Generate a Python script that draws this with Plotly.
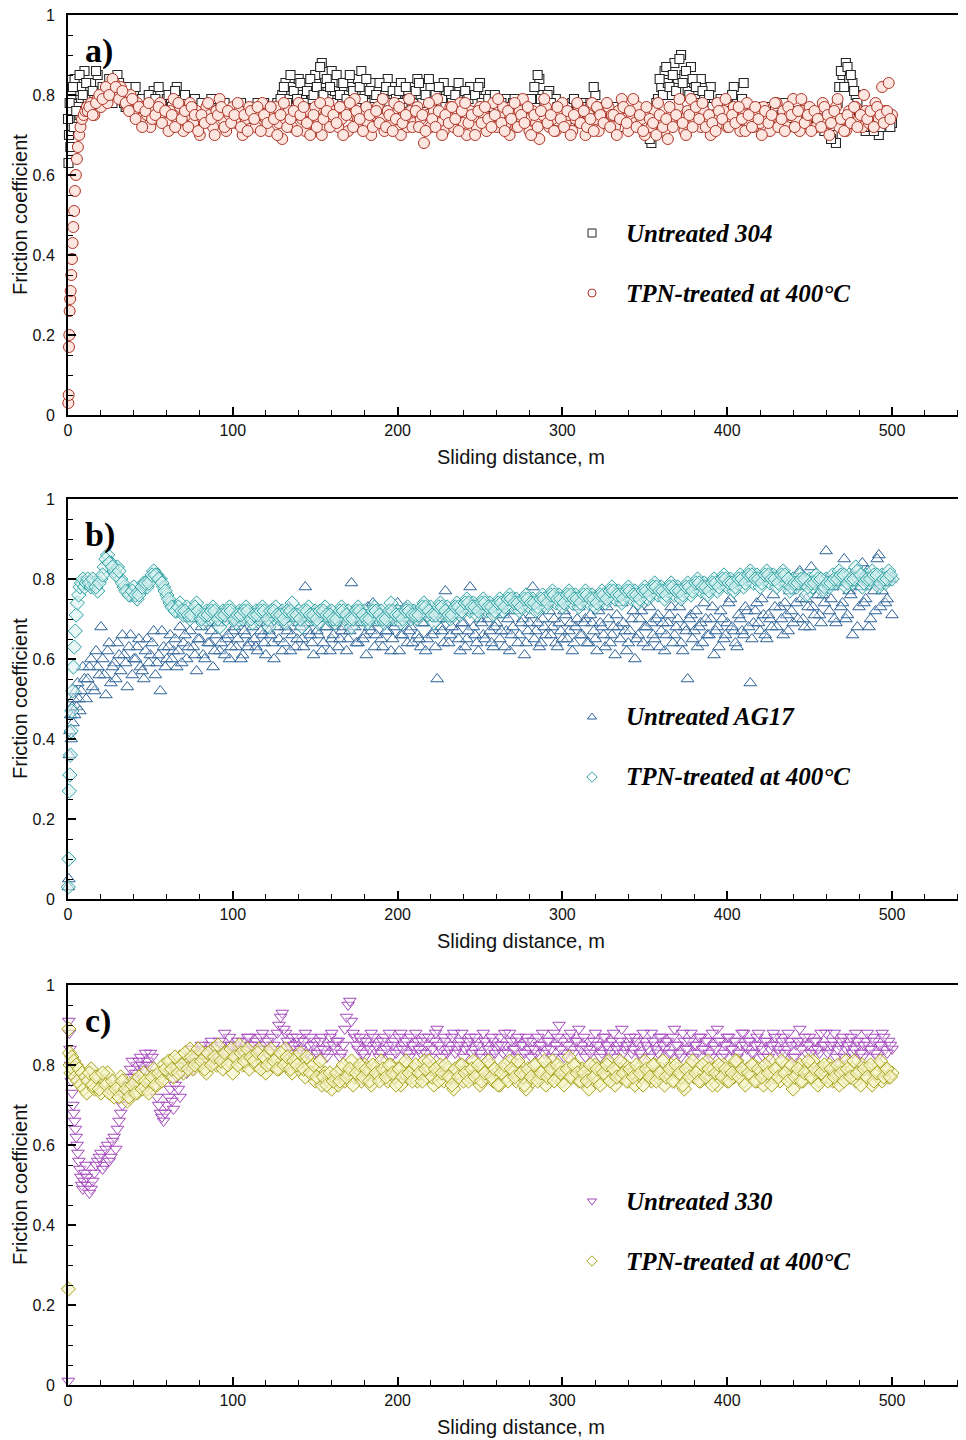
import plotly.graph_objects as go

# ---------------- DATA ----------------
STEP = 2.0          # sampling interval of each record row (m); second row offset by 1 m
MAIN_START = 12.0   # start of the regular part for series with a dense run-in part

# Panel a) Untreated 304 (squares)
A_SQ_EARLY_X = [0.3, 0.6, 1.0, 1.4, 2.5, 3.5, 5.0, 7.0]
A_SQ_EARLY_Y = [0.63, 0.70, 0.74, 0.67, 0.78, 0.72, 0.81, 0.75]
A_SQ_START = 0.0
A_SQ = [
    0.74,0.80,0.84,0.77,0.82,0.86,0.79,0.83,0.80,0.85,0.78,0.82,0.81,0.79,0.84,0.85,0.80,0.78,0.82,0.77,0.80,0.78,0.76,0.79,0.77,
    0.78,0.81,0.76,0.80,0.77,0.79,0.76,0.78,0.82,0.77,0.75,0.78,0.76,0.79,0.77,0.75,0.78,0.76,0.74,0.77,0.75,0.78,0.76,0.74,0.77,
    0.75,0.77,0.76,0.74,0.76,0.75,0.77,0.77,0.78,0.77,0.76,0.75,0.77,0.76,0.78,0.80,0.83,0.79,0.82,0.77,0.84,0.80,0.78,0.82,0.79,
    0.85,0.81,0.88,0.83,0.79,0.86,0.81,0.78,0.83,0.80,0.77,0.82,0.79,0.84,0.86,0.80,0.78,0.83,0.79,0.81,0.77,0.80,0.84,0.78,0.82,
    0.79,0.83,0.77,0.80,0.82,0.78,0.84,0.80,0.76,0.79,0.82,0.78,0.80,0.77,0.83,0.79,0.81,0.76,0.78,0.80,0.77,0.79,0.82,0.78,0.80,
    0.83,0.79,0.77,0.80,0.76,0.78,0.75,0.77,0.79,0.76,0.78,0.75,0.77,0.74,0.76,0.78,0.75,0.77,0.84,0.80,0.78,0.81,0.76,0.79,0.75,
    0.77,0.74,0.76,0.78,0.75,0.73,0.76,0.78,0.74,0.77,0.80,0.76,0.74,0.77,0.75,0.73,0.76,0.74,0.77,0.75,0.73,0.76,0.74,0.72,0.75,
    0.73,0.70,0.68,0.76,0.79,0.82,0.86,0.83,0.80,0.88,0.84,0.90,0.85,0.81,0.87,0.83,0.79,0.84,0.80,0.77,0.82,0.78,0.75,0.79,0.76,
    0.78,0.75,0.82,0.79,0.76,0.83,0.77,0.74,0.76,0.73,0.75,0.77,0.74,0.76,0.73,0.75,0.77,0.74,0.76,0.73,0.75,0.77,0.74,0.72,0.75,
    0.73,0.76,0.74,0.72,0.75,0.73,0.76,0.70,0.68,0.82,0.85,0.88,0.84,0.83,0.80,0.76,0.73,0.71,0.74,0.76,0.72,0.70,0.73,0.75,0.74,
    0.73,
]
A_SQ_ODD = [
    0.78,0.82,0.76,0.85,0.80,0.83,0.77,0.81,0.86,0.79,0.82,0.80,0.84,0.78,0.81,0.83,0.79,0.77,0.80,0.78,0.82,0.76,0.79,0.77,0.80,
    0.76,0.79,0.82,0.78,0.75,0.80,0.77,0.81,0.76,0.78,0.80,0.77,0.75,0.79,0.76,0.78,0.74,0.77,0.79,0.76,0.75,0.77,0.78,0.75,0.76,
    0.77,0.75,0.78,0.76,0.74,0.77,0.76,0.78,0.77,0.78,0.76,0.77,0.75,0.78,0.79,0.82,0.78,0.85,0.81,0.79,0.83,0.78,0.81,0.84,0.80,
    0.82,0.87,0.80,0.84,0.82,0.78,0.85,0.80,0.83,0.79,0.85,0.81,0.78,0.82,0.79,0.84,0.81,0.77,0.80,0.83,0.79,0.82,0.78,0.81,0.79,
    0.81,0.78,0.82,0.79,0.77,0.81,0.83,0.78,0.80,0.84,0.77,0.80,0.82,0.79,0.77,0.81,0.78,0.80,0.83,0.78,0.81,0.79,0.76,0.80,0.82,
    0.78,0.76,0.79,0.77,0.80,0.76,0.78,0.76,0.77,0.75,0.79,0.76,0.74,0.77,0.75,0.79,0.82,0.85,0.79,0.77,0.80,0.78,0.75,0.77,0.76,
    0.75,0.77,0.74,0.79,0.76,0.74,0.77,0.75,0.78,0.82,0.77,0.75,0.73,0.76,0.74,0.77,0.75,0.72,0.76,0.74,0.78,0.75,0.73,0.76,0.74,
    0.72,0.69,0.74,0.78,0.84,0.80,0.87,0.82,0.85,0.81,0.89,0.83,0.86,0.80,0.84,0.82,0.78,0.81,0.76,0.80,0.77,0.74,0.78,0.75,0.77,
    0.76,0.80,0.77,0.74,0.79,0.75,0.73,0.77,0.74,0.76,0.72,0.75,0.77,0.74,0.76,0.73,0.75,0.78,0.74,0.76,0.72,0.75,0.73,0.76,0.74,
    0.75,0.72,0.76,0.74,0.71,0.74,0.69,0.73,0.78,0.86,0.82,0.87,0.85,0.81,0.78,0.74,0.72,0.75,0.73,0.71,0.74,0.72,0.76,0.73,0.72,
]

# Panel a) TPN-treated at 400°C (circles)
A_CI_EARLY_X = [0.2,0.4,0.6,0.8,1.0,1.3,1.6,2.0,2.4,2.8,3.2,3.7,4.2,4.8,5.4,6.0,6.8,7.6,8.5,9.5,10.5,11.5]
A_CI_EARLY_Y = [0.03,0.05,0.17,0.20,0.26,0.29,0.31,0.35,0.39,0.43,0.47,0.51,0.56,0.60,0.64,0.67,0.70,0.72,0.74,0.75,0.76,0.77]
A_CI = [
    0.76,0.78,0.75,0.79,0.77,0.80,0.78,0.81,0.83,0.80,0.82,0.79,0.77,0.80,0.76,0.78,0.74,0.77,0.75,0.72,0.76,0.74,0.78,0.75,0.73,
    0.76,0.79,0.74,0.77,0.71,0.75,0.78,0.73,0.76,0.70,0.74,0.77,0.75,0.72,0.76,0.79,0.74,0.71,0.75,0.77,0.73,0.76,0.70,0.74,0.77,
    0.75,0.72,0.76,0.78,0.74,0.71,0.75,0.77,0.73,0.69,0.74,0.76,0.72,0.75,0.78,0.74,0.71,0.76,0.73,0.77,0.74,0.70,0.75,0.78,0.73,
    0.76,0.72,0.74,0.77,0.71,0.75,0.79,0.74,0.72,0.76,0.73,0.70,0.75,0.77,0.74,0.71,0.76,0.73,0.78,0.74,0.70,0.75,0.72,0.76,0.73,
    0.77,0.74,0.68,0.75,0.72,0.76,0.79,0.73,0.71,0.75,0.77,0.72,0.74,0.78,0.73,0.70,0.76,0.74,0.72,0.77,0.75,0.71,0.74,0.78,0.72,
    0.75,0.77,0.73,0.70,0.75,0.72,0.76,0.79,0.74,0.71,0.76,0.73,0.69,0.75,0.77,0.72,0.74,0.71,0.76,0.78,0.73,0.75,0.71,0.74,0.77,
    0.73,0.70,0.75,0.78,0.74,0.71,0.76,0.73,0.77,0.75,0.72,0.76,0.79,0.74,0.71,0.75,0.73,0.77,0.74,0.70,0.75,0.72,0.76,0.78,0.74,
    0.71,0.69,0.75,0.73,0.77,0.74,0.71,0.76,0.79,0.73,0.75,0.72,0.76,0.74,0.70,0.75,0.78,0.73,0.76,0.72,0.74,0.77,0.73,0.71,0.75,
    0.78,0.74,0.72,0.76,0.73,0.77,0.75,0.71,0.74,0.78,0.73,0.76,0.72,0.75,0.79,0.74,0.71,0.76,0.73,0.77,0.75,0.72,0.74,0.78,0.73,
    0.70,0.75,0.77,0.72,0.74,0.71,0.76,0.73,0.77,0.74,0.72,0.76,0.73,0.75,0.78,0.74,0.82,0.76,0.83,0.75,
]
A_CI_ODD = [
    0.77,0.75,0.78,0.80,0.79,0.82,0.80,0.84,0.82,0.79,0.81,0.78,0.76,0.79,0.74,0.77,0.72,0.76,0.78,0.74,0.75,0.77,0.73,0.76,0.71,
    0.75,0.72,0.78,0.74,0.76,0.72,0.77,0.75,0.71,0.75,0.73,0.78,0.74,0.70,0.75,0.77,0.72,0.76,0.73,0.75,0.78,0.72,0.75,0.71,0.76,
    0.74,0.77,0.71,0.75,0.73,0.77,0.74,0.70,0.75,0.78,0.72,0.74,0.76,0.71,0.75,0.77,0.73,0.70,0.75,0.72,0.78,0.74,0.76,0.72,0.75,
    0.73,0.77,0.70,0.75,0.78,0.72,0.76,0.74,0.71,0.77,0.75,0.72,0.76,0.73,0.79,0.72,0.75,0.71,0.74,0.77,0.73,0.75,0.79,0.72,0.76,
    0.72,0.75,0.71,0.78,0.74,0.72,0.76,0.70,0.75,0.73,0.77,0.74,0.71,0.76,0.78,0.73,0.75,0.70,0.76,0.73,0.77,0.74,0.72,0.75,0.79,
    0.73,0.71,0.76,0.74,0.78,0.72,0.75,0.73,0.77,0.70,0.75,0.72,0.76,0.79,0.73,0.75,0.71,0.77,0.74,0.72,0.76,0.70,0.75,0.78,0.73,
    0.76,0.72,0.74,0.71,0.77,0.75,0.73,0.78,0.72,0.75,0.70,0.74,0.77,0.73,0.76,0.79,0.72,0.75,0.71,0.77,0.74,0.73,0.70,0.75,0.72,
    0.74,0.77,0.72,0.75,0.79,0.73,0.70,0.75,0.72,0.77,0.74,0.78,0.72,0.75,0.73,0.71,0.76,0.74,0.79,0.72,0.75,0.73,0.77,0.74,0.71,
    0.75,0.72,0.77,0.74,0.70,0.76,0.73,0.75,0.78,0.72,0.74,0.71,0.77,0.75,0.72,0.76,0.79,0.73,0.75,0.71,0.76,0.74,0.72,0.77,0.75,
    0.73,0.76,0.79,0.74,0.71,0.75,0.73,0.77,0.72,0.75,0.80,0.74,0.76,0.72,0.77,0.75,0.73,0.76,0.74,
]

# Panel b) Untreated AG17 (triangles)
B_TR_EARLY_X = [0.2,0.5,0.8,1.2,1.6,2.0,2.5,3.0,3.5,4.0,4.6,5.2,5.8,6.5,7.2,8.0,9.0,10.0,11.0]
B_TR_EARLY_Y = [0.03,0.05,0.36,0.42,0.46,0.40,0.48,0.44,0.50,0.46,0.52,0.48,0.54,0.50,0.47,0.52,0.58,0.55,0.50]
B_TR = [
    0.55,0.60,0.52,0.58,0.68,0.56,0.62,0.54,0.59,0.64,0.57,0.61,0.53,0.66,0.60,0.63,0.58,0.55,0.65,0.61,0.67,0.59,0.52,0.63,0.60,
    0.66,0.62,0.58,0.68,0.64,0.60,0.67,0.63,0.57,0.65,0.61,0.69,0.64,0.58,0.66,0.62,0.70,0.65,0.60,0.67,0.63,0.69,0.61,0.66,0.64,
    0.68,0.63,0.70,0.66,0.61,0.67,0.64,0.71,0.65,0.62,0.68,0.73,0.66,0.63,0.69,0.65,0.78,0.67,0.64,0.70,0.66,0.62,0.68,0.72,0.65,
    0.69,0.63,0.67,0.71,0.65,0.79,0.68,0.64,0.70,0.66,0.73,0.67,0.63,0.69,0.65,0.71,0.67,0.62,0.68,0.74,0.66,0.70,0.64,0.68,0.72,
    0.66,0.63,0.69,0.65,0.71,0.67,0.55,0.68,0.64,0.70,0.66,0.73,0.67,0.62,0.69,0.65,0.78,0.68,0.64,0.70,0.66,0.72,0.67,0.63,0.69,
    0.65,0.71,0.67,0.62,0.68,0.74,0.66,0.70,0.64,0.69,0.78,0.67,0.63,0.70,0.66,0.72,0.68,0.64,0.69,0.65,0.71,0.67,0.62,0.68,0.73,
    0.66,0.70,0.64,0.69,0.65,0.72,0.68,0.63,0.70,0.66,0.61,0.68,0.74,0.67,0.64,0.70,0.60,0.66,0.72,0.68,0.63,0.69,0.65,0.71,0.67,
    0.62,0.69,0.73,0.66,0.70,0.64,0.68,0.55,0.71,0.67,0.63,0.69,0.74,0.66,0.70,0.61,0.68,0.72,0.65,0.69,0.75,0.67,0.63,0.70,0.66,
    0.72,0.54,0.69,0.74,0.67,0.71,0.65,0.70,0.76,0.68,0.73,0.66,0.71,0.77,0.69,0.74,0.82,0.70,0.75,0.68,0.73,0.79,0.71,0.76,0.87,
    0.72,0.78,0.69,0.81,0.74,0.70,0.77,0.66,0.79,0.73,0.84,0.75,0.68,0.80,0.72,0.86,0.77,0.74,0.81,0.71,
]
B_TR_ODD = [
    0.58,0.53,0.62,0.56,0.60,0.51,0.64,0.58,0.55,0.61,0.66,0.59,0.63,0.56,0.60,0.65,0.57,0.62,0.59,0.64,0.56,0.61,0.67,0.58,0.63,
    0.60,0.65,0.62,0.59,0.66,0.63,0.70,0.61,0.65,0.68,0.60,0.64,0.67,0.62,0.69,0.64,0.61,0.66,0.63,0.68,0.65,0.60,0.67,0.63,0.70,
    0.65,0.62,0.67,0.64,0.69,0.66,0.60,0.68,0.72,0.64,0.67,0.62,0.70,0.65,0.68,0.63,0.69,0.66,0.61,0.67,0.71,0.64,0.68,0.62,0.66,
    0.70,0.65,0.68,0.62,0.67,0.72,0.64,0.69,0.65,0.61,0.68,0.74,0.66,0.70,0.63,0.67,0.71,0.65,0.69,0.62,0.66,0.73,0.67,0.64,0.70,
    0.65,0.69,0.62,0.72,0.66,0.63,0.70,0.67,0.77,0.64,0.68,0.71,0.65,0.69,0.63,0.67,0.72,0.66,0.62,0.69,0.65,0.70,0.64,0.68,0.73,
    0.67,0.63,0.70,0.66,0.72,0.64,0.69,0.61,0.67,0.71,0.65,0.69,0.64,0.68,0.74,0.66,0.70,0.63,0.67,0.72,0.65,0.69,0.64,0.70,0.66,
    0.69,0.64,0.71,0.67,0.62,0.69,0.66,0.73,0.64,0.68,0.71,0.65,0.69,0.62,0.67,0.72,0.65,0.70,0.64,0.68,0.73,0.66,0.70,0.63,0.69,
    0.66,0.71,0.64,0.68,0.73,0.62,0.67,0.70,0.65,0.72,0.68,0.64,0.70,0.66,0.73,0.67,0.63,0.70,0.66,0.74,0.68,0.64,0.71,0.67,0.73,
    0.68,0.65,0.72,0.69,0.75,0.66,0.71,0.68,0.73,0.80,0.70,0.74,0.67,0.72,0.78,0.70,0.75,0.68,0.73,0.83,0.71,0.76,0.69,0.74,0.80,
    0.75,0.70,0.79,0.73,0.85,0.71,0.76,0.81,0.68,0.78,0.74,0.82,0.70,0.77,0.85,0.73,0.79,0.75,0.80,
]

# Panel b) TPN-treated at 400°C (diamonds)
B_DI_EARLY_X = [0.2,0.5,0.8,1.1,1.5,1.9,2.3,2.8,3.3,3.8,4.4,5.0,5.7,6.5,7.3,8.2,9.1,10.0,11.0]
B_DI_EARLY_Y = [0.03,0.10,0.27,0.31,0.36,0.42,0.47,0.52,0.58,0.63,0.67,0.71,0.74,0.76,0.78,0.79,0.80,0.78,0.79]
B_DI = [
    0.80,0.78,0.79,0.77,0.80,0.83,0.86,0.84,0.82,0.83,0.80,0.78,0.77,0.76,0.78,0.75,0.77,0.79,0.78,0.80,0.82,0.81,0.80,0.78,0.76,
    0.74,0.73,0.72,0.74,0.71,0.73,0.70,0.72,0.74,0.71,0.69,0.72,0.70,0.73,0.71,0.68,0.72,0.70,0.73,0.71,0.69,0.72,0.70,0.73,0.71,
    0.69,0.72,0.70,0.73,0.71,0.68,0.71,0.73,0.70,0.72,0.69,0.71,0.74,0.70,0.72,0.68,0.71,0.73,0.70,0.72,0.69,0.71,0.73,0.70,0.72,
    0.69,0.71,0.73,0.70,0.72,0.68,0.71,0.73,0.70,0.72,0.69,0.71,0.73,0.70,0.72,0.69,0.71,0.74,0.70,0.72,0.69,0.71,0.73,0.70,0.72,
    0.70,0.72,0.74,0.71,0.73,0.69,0.72,0.74,0.71,0.73,0.70,0.72,0.74,0.71,0.73,0.75,0.72,0.74,0.71,0.73,0.75,0.72,0.74,0.71,0.73,
    0.75,0.72,0.74,0.76,0.73,0.75,0.72,0.74,0.76,0.73,0.75,0.72,0.74,0.76,0.73,0.75,0.77,0.74,0.76,0.73,0.75,0.77,0.74,0.76,0.73,
    0.75,0.77,0.74,0.76,0.73,0.75,0.77,0.74,0.76,0.78,0.75,0.77,0.74,0.76,0.78,0.75,0.77,0.74,0.76,0.78,0.75,0.77,0.79,0.76,0.78,
    0.75,0.77,0.79,0.76,0.78,0.75,0.77,0.79,0.76,0.78,0.80,0.77,0.79,0.76,0.78,0.80,0.77,0.79,0.81,0.78,0.80,0.77,0.79,0.81,0.78,
    0.80,0.82,0.79,0.81,0.78,0.80,0.82,0.79,0.81,0.78,0.80,0.82,0.79,0.77,0.80,0.78,0.81,0.79,0.76,0.80,0.78,0.81,0.79,0.77,0.80,
    0.78,0.81,0.79,0.82,0.80,0.78,0.81,0.79,0.83,0.80,0.78,0.81,0.79,0.82,0.80,0.78,0.81,0.79,0.82,0.80,
]
B_DI_ODD = [
    0.79,0.80,0.78,0.79,0.81,0.85,0.84,0.83,0.81,0.82,0.79,0.77,0.76,0.77,0.76,0.76,0.78,0.79,0.79,0.81,0.81,0.80,0.79,0.77,0.75,
    0.73,0.72,0.73,0.72,0.72,0.71,0.71,0.73,0.72,0.70,0.71,0.71,0.72,0.72,0.70,0.71,0.71,0.72,0.72,0.70,0.71,0.71,0.72,0.72,0.70,
    0.71,0.71,0.72,0.72,0.70,0.72,0.72,0.71,0.71,0.70,0.72,0.72,0.71,0.71,0.70,0.72,0.72,0.71,0.71,0.70,0.72,0.72,0.71,0.71,0.70,
    0.70,0.72,0.72,0.71,0.70,0.70,0.72,0.72,0.71,0.70,0.70,0.72,0.72,0.71,0.70,0.70,0.72,0.72,0.71,0.71,0.70,0.72,0.72,0.71,0.71,
    0.71,0.73,0.73,0.72,0.71,0.71,0.73,0.73,0.72,0.71,0.71,0.73,0.73,0.72,0.74,0.74,0.73,0.73,0.72,0.74,0.74,0.73,0.73,0.72,0.74,
    0.74,0.73,0.75,0.75,0.74,0.74,0.73,0.75,0.75,0.74,0.74,0.73,0.75,0.75,0.74,0.76,0.76,0.75,0.75,0.74,0.76,0.76,0.75,0.75,0.74,
    0.76,0.76,0.75,0.75,0.74,0.76,0.76,0.75,0.77,0.77,0.76,0.76,0.75,0.77,0.77,0.76,0.76,0.75,0.77,0.77,0.76,0.78,0.78,0.77,0.77,
    0.76,0.78,0.78,0.77,0.77,0.76,0.78,0.78,0.77,0.79,0.79,0.78,0.78,0.77,0.79,0.79,0.78,0.80,0.80,0.79,0.79,0.78,0.80,0.80,0.79,
    0.81,0.81,0.80,0.80,0.79,0.81,0.81,0.80,0.80,0.79,0.81,0.81,0.80,0.78,0.79,0.79,0.80,0.80,0.78,0.79,0.79,0.80,0.80,0.78,0.79,
    0.79,0.80,0.80,0.81,0.81,0.79,0.80,0.80,0.82,0.81,0.79,0.80,0.80,0.81,0.81,0.79,0.80,0.80,0.81,
]

# Panel c) Untreated 330 (down triangles)
C_TD_EARLY_X = [0.2,0.5,0.8,1.2,1.6,2.0,2.5,3.0,3.5,4.0,4.5,5.0,5.5,6.0,6.6,7.2,7.8,8.4,9.0,9.6,10.2,10.8,11.4]
C_TD_EARLY_Y = [0.01,0.91,0.88,0.84,0.80,0.76,0.73,0.70,0.68,0.66,0.64,0.62,0.60,0.58,0.56,0.54,0.52,0.50,0.49,0.51,0.53,0.55,0.52]
C_TD = [
    0.50,0.49,0.53,0.56,0.58,0.55,0.60,0.57,0.62,0.64,0.68,0.72,0.75,0.79,0.77,0.80,0.82,0.79,0.81,0.83,0.78,0.72,0.68,0.66,0.70,
    0.74,0.69,0.77,0.72,0.80,0.78,0.82,0.79,0.83,0.80,0.84,0.82,0.85,0.81,0.83,0.86,0.82,0.84,0.87,0.83,0.85,0.82,0.86,0.84,0.87,
    0.83,0.86,0.84,0.88,0.85,0.82,0.87,0.84,0.90,0.93,0.88,0.85,0.87,0.84,0.86,0.83,0.88,0.85,0.82,0.86,0.84,0.87,0.83,0.85,0.88,
    0.84,0.86,0.83,0.89,0.95,0.91,0.87,0.84,0.86,0.82,0.85,0.88,0.84,0.86,0.83,0.87,0.85,0.82,0.86,0.84,0.88,0.85,0.83,0.87,0.84,
    0.86,0.83,0.87,0.85,0.82,0.86,0.89,0.84,0.87,0.83,0.85,0.88,0.84,0.86,0.82,0.85,0.87,0.84,0.86,0.83,0.88,0.85,0.82,0.86,0.84,
    0.87,0.83,0.85,0.88,0.84,0.86,0.82,0.85,0.87,0.84,0.86,0.83,0.85,0.88,0.84,0.86,0.82,0.85,0.90,0.86,0.83,0.87,0.84,0.86,0.89,
    0.85,0.82,0.86,0.84,0.88,0.85,0.83,0.87,0.84,0.86,0.82,0.85,0.89,0.84,0.86,0.83,0.87,0.85,0.82,0.86,0.84,0.88,0.85,0.83,0.87,
    0.84,0.86,0.83,0.89,0.85,0.82,0.86,0.84,0.88,0.85,0.83,0.87,0.84,0.86,0.82,0.85,0.89,0.86,0.83,0.87,0.84,0.86,0.82,0.85,0.88,
    0.84,0.86,0.83,0.87,0.85,0.82,0.86,0.84,0.88,0.85,0.83,0.87,0.84,0.86,0.82,0.85,0.89,0.86,0.83,0.87,0.84,0.86,0.83,0.85,0.88,
    0.84,0.86,0.82,0.85,0.87,0.84,0.86,0.83,0.88,0.85,0.82,0.86,0.84,0.87,0.83,0.85,0.88,0.84,0.86,0.84,
]
C_TD_ODD = [
    0.48,0.51,0.55,0.57,0.54,0.59,0.56,0.61,0.59,0.66,0.70,0.74,0.77,0.81,0.78,0.81,0.80,0.83,0.80,0.82,0.75,0.70,0.67,0.68,0.72,
    0.71,0.75,0.74,0.78,0.81,0.80,0.84,0.81,0.82,0.85,0.83,0.81,0.86,0.84,0.82,0.85,0.88,0.83,0.85,0.82,0.86,0.84,0.83,0.87,0.85,
    0.85,0.82,0.87,0.84,0.86,0.83,0.85,0.88,0.92,0.89,0.86,0.83,0.85,0.87,0.84,0.86,0.83,0.87,0.85,0.83,0.86,0.84,0.82,0.87,0.85,
    0.86,0.82,0.85,0.92,0.96,0.88,0.85,0.87,0.83,0.86,0.84,0.87,0.85,0.82,0.86,0.84,0.88,0.85,0.83,0.87,0.84,0.86,0.82,0.85,0.88,
    0.84,0.86,0.83,0.87,0.84,0.88,0.85,0.82,0.86,0.84,0.87,0.83,0.85,0.88,0.84,0.86,0.83,0.87,0.85,0.82,0.86,0.84,0.87,0.83,0.85,
    0.85,0.88,0.83,0.86,0.84,0.87,0.85,0.83,0.86,0.82,0.84,0.87,0.85,0.83,0.86,0.84,0.88,0.87,0.84,0.82,0.85,0.88,0.83,0.86,0.84,
    0.87,0.84,0.83,0.86,0.85,0.82,0.87,0.85,0.83,0.88,0.84,0.86,0.83,0.85,0.87,0.84,0.86,0.83,0.88,0.85,0.82,0.86,0.84,0.87,0.85,
    0.86,0.83,0.87,0.85,0.83,0.88,0.84,0.86,0.82,0.85,0.87,0.84,0.86,0.83,0.88,0.84,0.86,0.82,0.85,0.87,0.84,0.86,0.83,0.88,0.85,
    0.86,0.83,0.85,0.88,0.84,0.86,0.82,0.85,0.87,0.84,0.86,0.83,0.88,0.85,0.82,0.86,0.84,0.87,0.85,0.83,0.86,0.84,0.88,0.85,0.83,
    0.85,0.88,0.84,0.86,0.82,0.85,0.87,0.84,0.86,0.83,0.85,0.88,0.84,0.86,0.82,0.85,0.87,0.83,0.85,
]

# Panel c) TPN-treated at 400°C (diamonds)
C_DI_EARLY_X = [0.2,0.5,0.9,1.3,1.8,2.3,2.9,3.5,4.2,5.0,5.8,6.7,7.6,8.6,9.6,10.6,11.4]
C_DI_EARLY_Y = [0.24,0.89,0.83,0.80,0.78,0.82,0.79,0.81,0.77,0.80,0.76,0.79,0.75,0.78,0.74,0.77,0.73]
C_DI = [
    0.76,0.79,0.74,0.77,0.73,0.76,0.78,0.74,0.72,0.75,0.77,0.73,0.71,0.74,0.76,0.73,0.75,0.78,0.74,0.76,0.79,0.75,0.77,0.80,0.78,
    0.81,0.77,0.80,0.82,0.78,0.81,0.84,0.79,0.82,0.80,0.83,0.78,0.81,0.84,0.80,0.82,0.79,0.83,0.81,0.78,0.82,0.85,0.80,0.83,0.79,
    0.82,0.80,0.84,0.81,0.78,0.83,0.80,0.82,0.79,0.81,0.84,0.80,0.78,0.82,0.79,0.81,0.77,0.80,0.78,0.76,0.79,0.75,0.78,0.76,0.74,
    0.77,0.75,0.79,0.76,0.78,0.81,0.77,0.79,0.76,0.80,0.78,0.75,0.79,0.77,0.81,0.78,0.76,0.80,0.77,0.79,0.75,0.78,0.80,0.77,0.79,
    0.76,0.78,0.81,0.77,0.79,0.75,0.78,0.80,0.76,0.79,0.77,0.74,0.78,0.80,0.76,0.79,0.77,0.81,0.78,0.75,0.79,0.77,0.80,0.76,0.78,
    0.75,0.79,0.77,0.81,0.78,0.76,0.80,0.77,0.74,0.78,0.76,0.80,0.77,0.79,0.75,0.78,0.81,0.77,0.79,0.76,0.78,0.82,0.77,0.80,0.76,
    0.79,0.77,0.74,0.78,0.80,0.76,0.79,0.77,0.81,0.78,0.75,0.79,0.77,0.80,0.76,0.78,0.75,0.79,0.77,0.81,0.78,0.76,0.80,0.77,0.79,
    0.75,0.78,0.80,0.76,0.79,0.77,0.74,0.78,0.80,0.77,0.79,0.76,0.78,0.81,0.77,0.79,0.75,0.78,0.80,0.76,0.79,0.77,0.81,0.78,0.76,
    0.79,0.77,0.80,0.76,0.78,0.75,0.79,0.81,0.77,0.79,0.76,0.78,0.80,0.77,0.74,0.78,0.80,0.76,0.79,0.77,0.81,0.78,0.76,0.79,0.77,
    0.80,0.76,0.78,0.75,0.79,0.81,0.77,0.79,0.76,0.78,0.80,0.77,0.79,0.75,0.78,0.80,0.76,0.79,0.77,0.78,
]
C_DI_ODD = [
    0.78,0.75,0.77,0.74,0.78,0.75,0.73,0.76,0.74,0.72,0.76,0.74,0.72,0.75,0.73,0.77,0.74,0.76,0.73,0.77,0.75,0.78,0.76,0.79,0.81,
    0.79,0.82,0.78,0.80,0.83,0.79,0.82,0.80,0.84,0.81,0.79,0.83,0.80,0.82,0.85,0.81,0.83,0.80,0.84,0.82,0.80,0.83,0.81,0.84,0.82,
    0.81,0.83,0.79,0.82,0.80,0.84,0.81,0.79,0.83,0.80,0.82,0.79,0.81,0.80,0.83,0.79,0.82,0.78,0.80,0.77,0.81,0.77,0.75,0.78,0.76,
    0.78,0.76,0.80,0.77,0.79,0.75,0.78,0.80,0.77,0.79,0.76,0.80,0.78,0.76,0.79,0.77,0.80,0.78,0.75,0.79,0.77,0.81,0.78,0.76,0.80,
    0.78,0.76,0.79,0.81,0.77,0.79,0.76,0.78,0.80,0.77,0.75,0.79,0.77,0.80,0.78,0.76,0.79,0.77,0.80,0.76,0.78,0.81,0.77,0.79,0.75,
    0.78,0.80,0.76,0.79,0.77,0.81,0.78,0.75,0.79,0.77,0.80,0.76,0.78,0.81,0.77,0.79,0.76,0.80,0.78,0.75,0.79,0.77,0.80,0.78,0.76,
    0.78,0.76,0.80,0.77,0.79,0.75,0.78,0.80,0.76,0.79,0.77,0.81,0.78,0.76,0.79,0.77,0.80,0.78,0.75,0.79,0.77,0.80,0.76,0.78,0.81,
    0.77,0.79,0.76,0.80,0.78,0.75,0.79,0.77,0.81,0.78,0.76,0.80,0.77,0.79,0.75,0.78,0.80,0.77,0.79,0.76,0.78,0.81,0.77,0.79,0.75,
    0.78,0.80,0.76,0.79,0.77,0.80,0.78,0.75,0.79,0.77,0.81,0.78,0.76,0.80,0.77,0.79,0.76,0.78,0.81,0.77,0.79,0.75,0.78,0.80,0.76,
    0.79,0.77,0.80,0.78,0.76,0.79,0.77,0.81,0.78,0.75,0.79,0.77,0.80,0.76,0.78,0.81,0.77,0.79,0.77,
]

PANEL_LABELS = ["a)", "b)", "c)"]
LEGEND_TEXT = [["Untreated 304", "TPN-treated at 400°C"],
               ["Untreated AG17", "TPN-treated at 400°C"],
               ["Untreated 330", "TPN-treated at 400°C"]]
Y_TICKS = [0, 0.2, 0.4, 0.6, 0.8, 1]
Y_TICKTEXT = ["0", "0.2", "0.4", "0.6", "0.8", "1"]
X_TICKS = [0, 100, 200, 300, 400, 500]
X_TITLE = "Sliding distance, m"
Y_TITLE = "Friction coefficient"

# ---------------- FIGURE ----------------
# The page body has an 8 px margin, so the figure is drawn 8 px right/down.
OFF = 8
W, H = 966 - OFF, 1440 - OFF
X_LEFT_PX = 68 - OFF
PANEL_TOP_PX = [15 - OFF, 499 - OFF, 985 - OFF]
PANEL_H_PX = 400


def series_xy(early_x, early_y, start, even_vals, odd_vals):
    xs = list(early_x)
    ys = list(early_y)
    for i, v in enumerate(even_vals):
        xs.append(start + STEP * i)
        ys.append(v)
    for i, v in enumerate(odd_vals):
        xs.append(start + 1.0 + STEP * i)
        ys.append(v)
    return xs, ys


fig = go.Figure()

styles = [
    [
        (A_SQ_EARLY_X, A_SQ_EARLY_Y, A_SQ_START, A_SQ, A_SQ_ODD, "square", "#262626", "rgba(255,255,255,1)", 9, 1.1),
        (A_CI_EARLY_X, A_CI_EARLY_Y, MAIN_START, A_CI, A_CI_ODD, "circle", "#b03426", "rgba(253,230,224,1)", 11, 1.0),
    ],
    [
        (B_TR_EARLY_X, B_TR_EARLY_Y, MAIN_START, B_TR, B_TR_ODD, "triangle-up", "#2c6399", "rgba(255,255,255,0.3)", 11, 1.0),
        (B_DI_EARLY_X, B_DI_EARLY_Y, MAIN_START, B_DI, B_DI_ODD, "diamond", "#2fa2a4", "rgba(215,243,240,0.55)", 11, 1.0),
    ],
    [
        (C_TD_EARLY_X, C_TD_EARLY_Y, MAIN_START, C_TD, C_TD_ODD, "triangle-down", "#a448bc", "rgba(255,255,255,0.3)", 11, 1.0),
        (C_DI_EARLY_X, C_DI_EARLY_Y, MAIN_START, C_DI, C_DI_ODD, "diamond", "#a6a21c", "rgba(246,245,200,0.65)", 11, 1.0),
    ],
]

legend_y = [[0.455, 0.305], [0.455, 0.305], [0.46, 0.31]]
px_per_m = 824 / 500.0
key_x = (592 - 68) / px_per_m
text_x = (624 - 68) / px_per_m
x_max = (W - X_LEFT_PX) / px_per_m

annotations = []
for p in range(3):
    suffix = "" if p == 0 else str(p + 1)
    xa = "x" + suffix
    ya = "y" + suffix
    top = PANEL_TOP_PX[p]
    y0 = 1 - (top + PANEL_H_PX) / H
    y1 = 1 - top / H
    minor_common = dict(ticks="inside", ticklen=5, tickwidth=1, tickcolor="black", showgrid=False)
    axis_common = dict(
        showline=True, linecolor="black", linewidth=2, automargin=False,
        ticks="inside", ticklen=8, tickwidth=2, tickcolor="black",
        showgrid=False, zeroline=False, ticklabeloverflow="allow",
        tickfont=dict(family="Liberation Sans, Arial, sans-serif", size=16, color="#111"),
    )
    fig.update_layout(**{
        "xaxis" + suffix: dict(
            axis_common, domain=[X_LEFT_PX / W, 1], range=[0, x_max], anchor=ya,
            tickvals=X_TICKS, mirror=True, minor=dict(minor_common, dtick=20),
        ),
        "yaxis" + suffix: dict(
            axis_common, domain=[y0, y1], range=[0, 1], anchor=xa,
            tickvals=Y_TICKS, ticktext=Y_TICKTEXT, ticklabelstandoff=8,
            minor=dict(minor_common, dtick=0.05),
        ),
    })
    for k, (ex, ey, st, ev, od, sym, lc, fc, sz, lw) in enumerate(styles[p]):
        xs, ys = series_xy(ex, ey, st, ev, od)
        fig.add_trace(go.Scatter(
            x=xs, y=ys, mode="markers", xaxis=xa, yaxis=ya, showlegend=False, cliponaxis=False,
            marker=dict(symbol=sym, size=sz, color=fc, line=dict(color=lc, width=lw)),
        ))
        # legend key
        fig.add_trace(go.Scatter(
            x=[key_x], y=[legend_y[p][k]], mode="markers", xaxis=xa, yaxis=ya, showlegend=False,
            marker=dict(symbol=sym, size=8, color="white", line=dict(color=lc, width=1)),
        ))
        annotations.append(dict(
            x=text_x, y=legend_y[p][k], xref=xa, yref=ya, xanchor="left", yanchor="middle",
            text="<b><i>" + LEGEND_TEXT[p][k] + "</i></b>", showarrow=False,
            font=dict(family="Liberation Serif, Times New Roman, serif", size=25, color="black"),
        ))
    # panel label
    annotations.append(dict(
        x=(83 - OFF) / W, y=1 - (top + 36) / H, xref="paper", yref="paper",
        xanchor="left", yanchor="middle", text="<b>" + PANEL_LABELS[p] + "</b>", showarrow=False,
        font=dict(family="Liberation Serif, Times New Roman, serif", size=34, color="black"),
    ))
    # axis titles
    annotations.append(dict(
        x=(20 - OFF) / W, y=1 - (top + PANEL_H_PX / 2) / H, xref="paper", yref="paper",
        xanchor="center", yanchor="middle", text=Y_TITLE, textangle=-90, showarrow=False,
        font=dict(family="Liberation Sans, Arial, sans-serif", size=20, color="#111"),
    ))
    annotations.append(dict(
        x=(521 - OFF) / W, y=1 - (top + PANEL_H_PX + 42) / H, xref="paper", yref="paper",
        xanchor="center", yanchor="middle", text=X_TITLE, showarrow=False,
        font=dict(family="Liberation Sans, Arial, sans-serif", size=20, color="#111"),
    ))

fig.update_layout(
    width=W, height=H, margin=dict(l=0, r=0, t=0, b=0, autoexpand=False),
    paper_bgcolor="white", plot_bgcolor="white",
    annotations=annotations, showlegend=False,
)

fig.write_html("out.html")
